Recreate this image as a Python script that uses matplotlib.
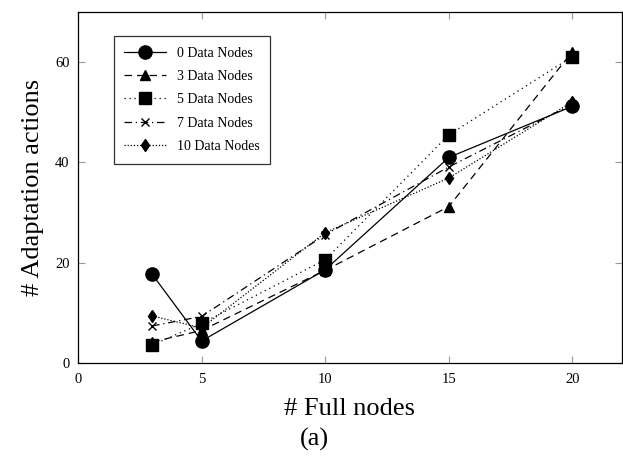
import matplotlib
matplotlib.use("Agg")
import matplotlib.pyplot as plt

plt.rcParams['font.family'] = ['Liberation Serif', 'DejaVu Serif']

full_nodes = [3, 5, 10, 15, 20]
dn0 = [17.7, 4.4, 18.6, 41.0, 51.2]
dn3 = [4.2, 6.5, 18.5, 31.2, 62.1]
dn5 = [3.6, 7.9, 20.6, 45.5, 61.1]
dn7 = [7.4, 9.3, 25.6, 39.1, 51.6]
dn10 = [9.4, 7.0, 26.0, 36.9, 52.1]

labels = ['0 Data Nodes', '3 Data Nodes', '5 Data Nodes', '7 Data Nodes', '10 Data Nodes']

fig = plt.figure(figsize=(6.23, 4.59), dpi=100)
ax = fig.add_axes([0.1252, 0.209, 0.873, 0.765])

ax.plot(full_nodes, dn0, color='black', linestyle='-', linewidth=0.9,
        marker='o', markersize=9.5, label=labels[0])
ax.plot(full_nodes, dn3, color='black', linestyle=(0, (6, 4)), linewidth=0.9,
        marker='^', markersize=7.5, label=labels[1])
ax.plot(full_nodes, dn5, color='black', linestyle=(0, (1, 3)), linewidth=0.9,
        marker='s', markersize=9, label=labels[2])
ax.plot(full_nodes, dn7, color='black', linestyle=(0, (6, 3, 1, 3)), linewidth=0.9,
        marker='x', markersize=6, markeredgewidth=1, label=labels[3])
ax.plot(full_nodes, dn10, color='black', linestyle=(0, (1, 1.5)), linewidth=0.9,
        marker='d', markersize=6.5, label=labels[4])

ax.set_xlim(0, 22)
ax.set_ylim(0, 70)
ax.set_xticks([0, 5, 10, 15, 20])
ax.set_yticks([0, 20, 40, 60])
ax.tick_params(direction='in', top=True, right=True, length=5, width=0.8,
               color='#999999', labelsize=10.5)
ax.tick_params(axis='x', pad=7)
ax.tick_params(axis='y', pad=6)
for s in ax.spines.values():
    s.set_linewidth(0.9)

ax.set_xlabel('# Full nodes', fontsize=19, labelpad=9)
ax.set_ylabel('# Adaptation actions', fontsize=19, labelpad=8)
fig.text(0.505, 0.03, '(a)', ha='center', fontsize=19)

leg = ax.legend(loc='upper left', bbox_to_anchor=(0.053, 0.951), fontsize=10,
                frameon=True, fancybox=False, edgecolor='black',
                handlelength=3.0, labelspacing=0.75, borderpad=0.75)
leg.get_frame().set_linewidth(0.9)

fig.savefig('out.png', dpi=100)
